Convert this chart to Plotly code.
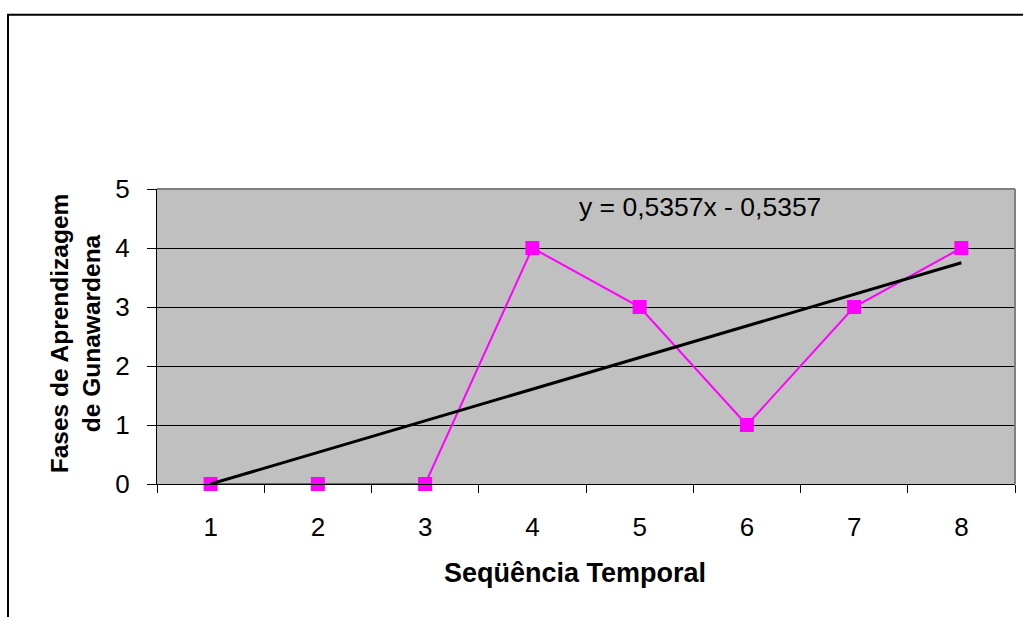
import numpy as np
import plotly.graph_objects as go

# Data
x_vals = [1, 2, 3, 4, 5, 6, 7, 8]
y_vals = [0, 0, 0, 4, 3, 1, 3, 4]
x_ticklabels = ["1", "2", "3", "4", "5", "6", "7", "8"]
y_ticks = [0, 1, 2, 3, 4, 5]
x_title = "Seqüência Temporal"
y_title = "Fases de Aprendizagem<br>de Gunawardena"

slope, intercept = np.polyfit(x_vals, y_vals, 1)
trend_x = [min(x_vals), max(x_vals)]
trend_y = [slope * v + intercept for v in trend_x]
eq_text = "y = " + f"{slope:.4f}".replace(".", ",") + "x - " + f"{abs(intercept):.4f}".replace(".", ",")

FONT = "Liberation Sans, Arial, sans-serif"
W, H = 1023, 617
L, R, T, B = 157, 8, 188.5, 133
pw, ph = W - L - R, H - T - B

def px(xp):
    return (xp - L) / pw

def py(yp):
    return (H - B - yp) / ph

fig = go.Figure()
fig.add_trace(go.Scatter(
    x=x_vals, y=y_vals, mode="lines+markers",
    line=dict(color="#FF00FF", width=2),
    marker=dict(symbol="square", size=14, color="#FF00FF"),
    showlegend=False, cliponaxis=False,
))
fig.add_trace(go.Scatter(
    x=trend_x, y=trend_y, mode="lines",
    line=dict(color="black", width=3),
    showlegend=False, cliponaxis=False,
))

fig.update_layout(
    width=W, height=H,
    margin=dict(l=L, r=R, t=T, b=B, pad=0),
    paper_bgcolor="white",
    plot_bgcolor="#C0C0C0",
    font=dict(family=FONT, size=26, color="black"),
    xaxis=dict(
        range=[0.5, 8.5], tickvals=x_vals, ticktext=x_ticklabels,
        ticks="", showgrid=False, zeroline=False,
        showline=True, linecolor="black", linewidth=1,
        tickfont=dict(size=26), ticklabelstandoff=20,
        minor=dict(tickvals=[v + 0.5 for v in [0] + x_vals], ticks="outside",
                   ticklen=8, tickcolor="black", tickwidth=1, showgrid=False),
    ),
    yaxis=dict(
        range=[0, 5], tickvals=y_ticks, ticks="outside", ticklen=9,
        tickcolor="black", tickwidth=1,
        showgrid=True, gridcolor="black", gridwidth=1, zeroline=False,
        showline=True, linecolor="black", linewidth=1,
        tickfont=dict(size=26), ticklabelstandoff=12,
    ),
    shapes=[
        dict(type="line", xref="paper", yref="paper", x0=0, x1=1, y0=1, y1=1,
             line=dict(color="#808080", width=2), layer="above"),
        dict(type="line", xref="paper", yref="paper", x0=1, x1=1, y0=0, y1=1,
             line=dict(color="#808080", width=2), layer="above"),
        dict(type="rect", xref="paper", yref="paper",
             x0=px(8), x1=px(1030), y0=py(14), y1=py(640),
             line=dict(color="black", width=2), fillcolor="rgba(0,0,0,0)", layer="below"),
    ],
    annotations=[
        dict(text=eq_text, xref="paper", yref="paper", x=px(700), y=py(207),
             xanchor="center", yanchor="middle", showarrow=False,
             font=dict(size=26.5, family=FONT)),
        dict(text="<b>" + x_title + "</b>", xref="paper", yref="paper",
             x=px(575), y=py(573), xanchor="center", yanchor="middle",
             showarrow=False, font=dict(size=27, family=FONT)),
        dict(text="<b>" + y_title + "</b>", xref="paper", yref="paper",
             x=px(75), y=py(333), xanchor="center", yanchor="middle",
             textangle=-90, showarrow=False, font=dict(size=24.5, family=FONT)),
    ],
)

fig.write_html("out.html")
